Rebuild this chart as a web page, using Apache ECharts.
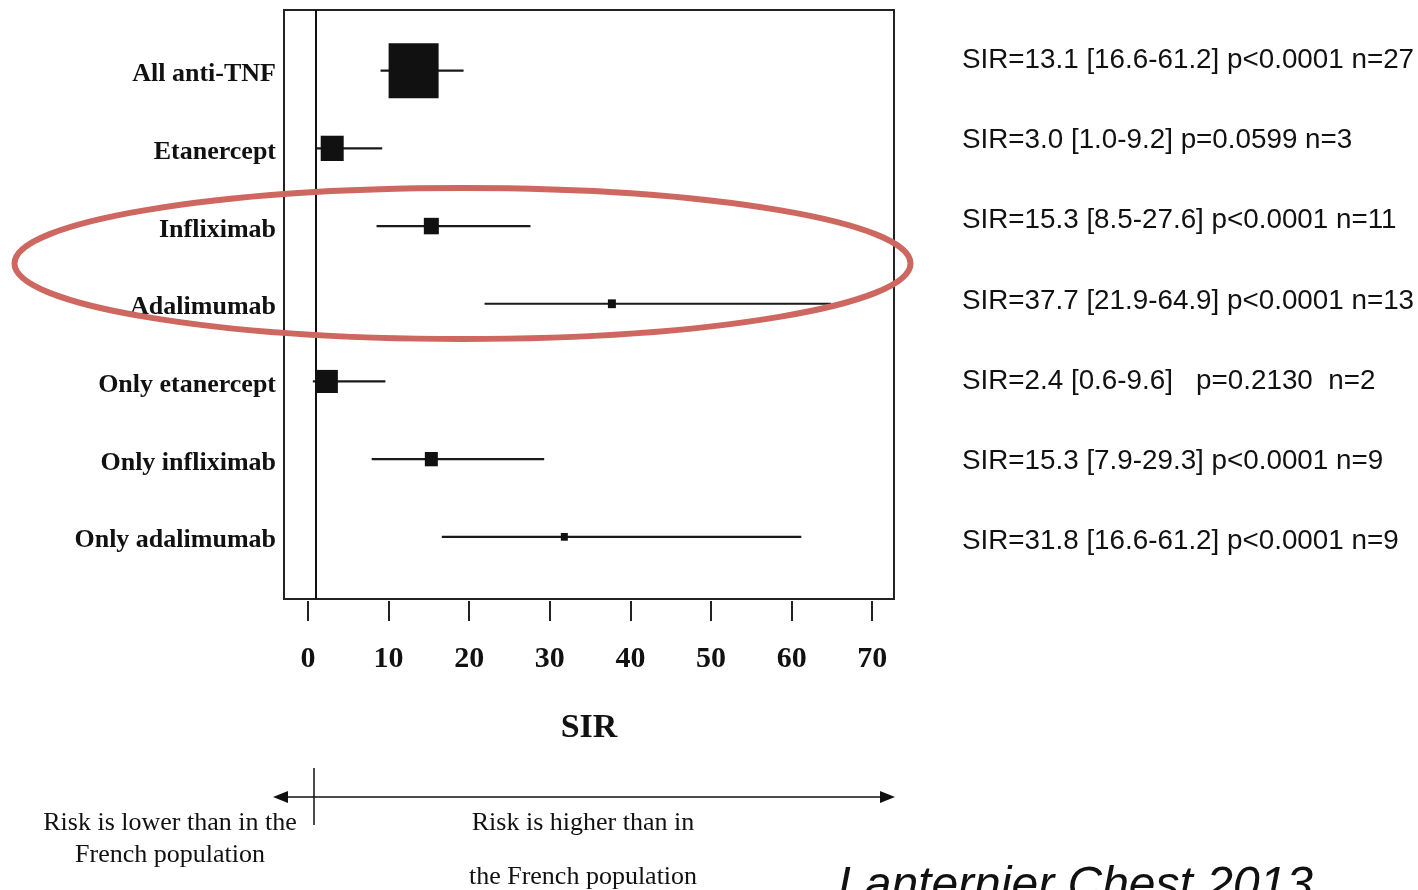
<!DOCTYPE html>
<html>
<head>
<meta charset="utf-8">
<script src="https://cdn.jsdelivr.net/npm/echarts@6/dist/echarts.min.js"></script>
<style>
  html, body { margin: 0; padding: 0; background: #fff; }
  #myChart { width: 1418px; height: 890px; }
</style>
</head>
<body>
<div id="myChart"></div>
<script>
// rows of the forest plot
var labels = ['All anti-TNF', 'Etanercept', 'Infliximab', 'Adalimumab', 'Only etanercept', 'Only infliximab', 'Only adalimumab']
var sir = [13.1, 3.0, 15.3, 37.7, 2.4, 15.3, 31.8] // point estimate
var ciLow = [9.0, 1.0, 8.5, 21.9, 0.6, 7.9, 16.6]
var ciHigh = [19.3, 9.2, 27.6, 64.9, 9.6, 29.3, 61.2]
var weight = [50, 23, 15, 8, 21, 13, 7] // relative study weight (box size)
var stats = [
  'SIR=13.1 [16.6-61.2] p<0.0001 n=27',
  'SIR=3.0 [1.0-9.2] p=0.0599 n=3',
  'SIR=15.3 [8.5-27.6] p<0.0001 n=11',
  'SIR=37.7 [21.9-64.9] p<0.0001 n=13',
  'SIR=2.4 [0.6-9.6]   p=0.2130  n=2',
  'SIR=15.3 [7.9-29.3] p<0.0001 n=9',
  'SIR=31.8 [16.6-61.2] p<0.0001 n=9'
]
var xTicks = [0, 10, 20, 30, 40, 50, 60, 70]
var refValue = 1 // SIR = 1

var myChart = echarts.init(document.getElementById('myChart'))

var seriesData = []
var labelPos = [] // row labels sit a little below the CI line
for (var i = 0; i < labels.length; i++) {
  seriesData.push([i, sir[i], ciLow[i], ciHigh[i], weight[i]])
  labelPos.push(i + 0.05)
}

var graphics = [
  // red ellipse around infliximab / adalimumab
  {
    type: 'ellipse',
    z: 100,
    shape: { cx: 462.5, cy: 263.5, rx: 448, ry: 75.5 },
    style: { fill: 'none', stroke: '#CD6760', lineWidth: 6 }
  },
  // bottom arrow
  {
    type: 'line',
    shape: { x1: 285, y1: 797, x2: 883, y2: 797 },
    style: { stroke: '#111', lineWidth: 1.5 }
  },
  {
    type: 'polygon',
    shape: { points: [[273, 797], [288, 791], [288, 803]] },
    style: { fill: '#111' }
  },
  {
    type: 'polygon',
    shape: { points: [[895, 797], [880, 791], [880, 803]] },
    style: { fill: '#111' }
  },
  {
    type: 'line',
    shape: { x1: 314, y1: 768, x2: 314, y2: 825 },
    style: { stroke: '#111', lineWidth: 1.5 }
  }
]

var serifText = function (text, x, y) {
  return {
    type: 'text',
    x: x,
    y: y,
    style: {
      text: text,
      font: '26px "Liberation Serif", "Times New Roman", serif',
      fill: '#111',
      align: 'center',
      verticalAlign: 'middle'
    }
  }
}
graphics.push(serifText('Risk is lower than in the', 170, 823))
graphics.push(serifText('French population', 170, 855))
graphics.push(serifText('Risk is higher than in', 583, 823))
graphics.push(serifText('the French population', 583, 877))

graphics.push({
  type: 'text',
  x: 838,
  y: 887,
  style: {
    text: 'Lanternier Chest 2013',
    font: 'italic 48px "Liberation Sans", Arial, sans-serif',
    fill: '#111',
    align: 'left',
    verticalAlign: 'middle'
  }
})

for (var j = 0; j < stats.length; j++) {
  graphics.push({
    type: 'text',
    x: 962,
    y: 60 + 80.3 * j,
    style: {
      text: stats[j],
      font: '27.8px "Liberation Sans", Arial, sans-serif',
      fill: '#111',
      align: 'left',
      verticalAlign: 'middle'
    }
  })
}

var option = {
  animation: false,
  backgroundColor: '#fff',
  grid: {
    left: 284,
    right: 524,
    top: 10,
    bottom: 291,
    show: true,
    borderColor: '#222',
    borderWidth: 2,
    backgroundColor: 'transparent'
  },
  xAxis: {
    type: 'value',
    min: -2.98,
    max: 72.7,
    offset: 2,
    name: 'SIR',
    nameLocation: 'middle',
    nameGap: 110,
    nameTextStyle: {
      fontFamily: '"Liberation Serif", "Times New Roman", serif',
      fontWeight: 'bold',
      fontSize: 34,
      color: '#111'
    },
    axisLine: { show: false, onZero: false },
    splitLine: { show: false },
    axisTick: {
      show: true,
      customValues: xTicks,
      length: 20,
      lineStyle: { color: '#222', width: 2 }
    },
    axisLabel: {
      customValues: xTicks,
      margin: 43,
      fontFamily: '"Liberation Serif", "Times New Roman", serif',
      fontWeight: 'bold',
      fontSize: 30,
      color: '#111'
    }
  },
  yAxis: {
    type: 'value',
    inverse: true,
    min: -0.781,
    max: 6.80,
    axisLine: { show: false, onZero: false },
    axisTick: { show: false },
    splitLine: { show: false },
    axisLabel: {
      customValues: labelPos,
      formatter: function (v) { return labels[Math.round(v)] },
      margin: 8,
      fontFamily: '"Liberation Serif", "Times New Roman", serif',
      fontWeight: 'bold',
      fontSize: 26,
      color: '#111'
    }
  },
  graphic: graphics,
  series: [{
    type: 'custom',
    data: seriesData,
    encode: { x: [1, 2, 3], y: 0 },
    renderItem: function (params, api) {
      var row = api.value(0)
      var p = api.coord([api.value(1), row])
      var lo = api.coord([api.value(2), row])
      var hi = api.coord([api.value(3), row])
      var w = api.value(4)
      var h = w * 1.1
      return {
        type: 'group',
        children: [{
          type: 'line',
          shape: { x1: lo[0], y1: lo[1], x2: hi[0], y2: hi[1] },
          style: { stroke: '#1a1a1a', lineWidth: 2.2 }
        }, {
          type: 'rect',
          shape: { x: p[0] - w / 2, y: p[1] - h / 2, width: w, height: h },
          style: { fill: '#111' }
        }]
      }
    },
    markLine: {
      silent: true,
      symbol: 'none',
      label: { show: false },
      lineStyle: { color: '#111', type: 'solid', width: 2 },
      data: [{ xAxis: refValue }]
    }
  }]
}

myChart.setOption(option)
</script>
</body>
</html>
